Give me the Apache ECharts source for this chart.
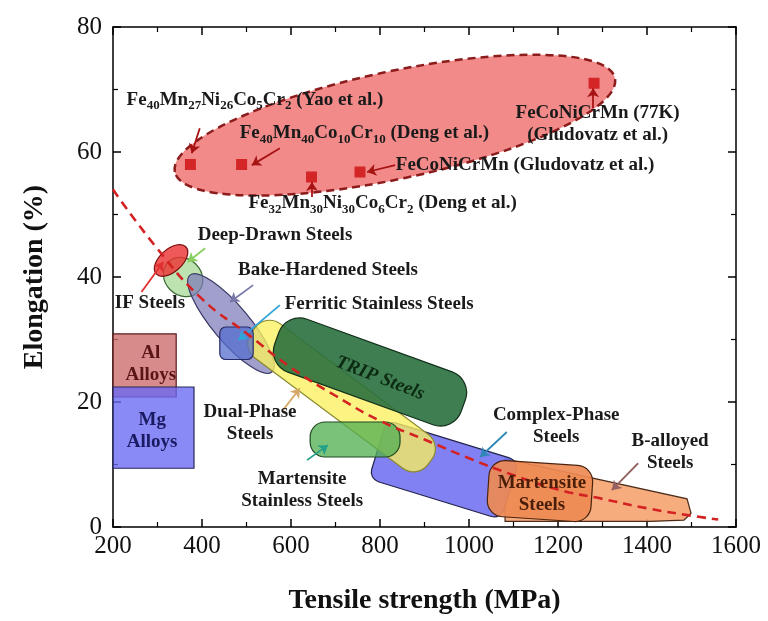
<!DOCTYPE html>
<html>
<head>
<meta charset="utf-8">
<script src="https://cdn.jsdelivr.net/npm/echarts/dist/echarts.min.js"></script>
<style>
  html, body { margin: 0; padding: 0; background: #ffffff; }
  #chart { width: 768px; height: 621px; }
</style>
</head>
<body>
<div id="chart"></div>
<script>
// ---- Data (tensile strength in MPa, elongation in %) ----

// Dashed banana trend line
const trendStrength = [200, 300, 400, 500, 600, 700, 800, 900, 1000, 1100, 1200, 1300, 1400, 1500, 1560];
const trendElong    = [54, 44.5, 36.5, 31, 25.5, 21, 17, 14, 11, 8.3, 6, 4.5, 3, 1.8, 1.2];

// High-entropy alloy data points
const heaStrength = [374, 489, 646, 755, 1281];
const heaElong    = [58, 58, 56, 56.8, 71];

// HEA envelope: major-axis tips and half minor axis (in % elongation)
const heaEnvelope = [339, 56.8, 1328, 71.8, 8.6];

// Steel families: end points of each band's axis and half-width (in % elongation)
const bandNames = ['Complex-Phase', 'Martensite', 'Deep-Drawn', 'Bake-Hardened', 'Dual-Phase',
                   'TRIP', 'Ferritic Stainless', 'Martensite Stainless', 'IF'];
const bandKinds = ['rect', 'rect', 'ellipse', 'ellipse', 'rect', 'rect', 'rect', 'rect', 'ellipse'];
const bandFrom  = [[795, 12.4], [1043, 6.3], [324, 42.4], [373, 40.3], [515, 31.5],
                   [568, 30.2], [440, 29.4], [643, 14.0], [297, 40.5]];
const bandTo    = [[1092, 5.9], [1276, 5.2], [391, 37.6], [557, 24.8], [912, 10.4],
                   [987, 19.4], [515, 29.4], [845, 14.0], [364, 44.8]];
const bandHalfWidth = [4.9, 4.5, 2.9, 2.9, 3.4, 4.5, 2.6, 2.8, 1.8];

// B-alloyed steels outline
const bAlloyedStrength = [1081, 1490, 1499, 1483, 1407, 1081];
const bAlloyedElong    = [10.9, 4.5, 2.2, 1.1, 0.9, 0.9];

// Light alloys: [strength min, strength max, elongation min, elongation max]
const alloyNames  = ['Al', 'Mg'];
const alloyRanges = [[200, 342, 20.8, 30.9], [200, 382, 9.4, 22.4]];

// Annotation text and anchors
const noteText = [
  'Fe{s|40}Mn{s|27}Ni{s|26}Co{s|5}Cr{s|2} (Yao et al.)',
  'Fe{s|40}Mn{s|40}Co{s|10}Cr{s|10} (Deng et al.)',
  'FeCoNiCrMn (Gludovatz et al.)',
  'Fe{s|32}Mn{s|30}Ni{s|30}Co{s|6}Cr{s|2} (Deng et al.)',
  'FeCoNiCrMn (77K)\n(Gludovatz et al.)',
  'Deep-Drawn Steels',
  'Bake-Hardened Steels',
  'IF Steels',
  'Ferritic Stainless Steels',
  'Dual-Phase\nSteels',
  'Martensite\nStainless Steels',
  'Complex-Phase\nSteels',
  'B-alloyed\nSteels',
  'Martensite\nSteels',
  'TRIP Steels',
  'Al\nAlloys',
  'Mg\nAlloys'
];
const noteStrength = [519, 765, 1126, 806, 1289, 564, 683, 283, 798, 508, 625, 1196, 1452, 1164, 800, 285, 288];
const noteElong    = [68.3, 63.0, 57.9, 51.8, 64.5, 46.7, 41.1, 35.8, 35.7, 16.6, 5.9, 16.2, 12.0, 5.3, 23.8, 26.1, 15.4];

// Pointer arrows: [from strength, from elongation, to strength, to elongation]
const arrowEnds = [
  [395, 63.8, 377, 59.8],
  [575, 60.6, 512, 57.9],
  [834, 57.9, 771, 56.8],
  [647, 52.8, 647, 55.2],
  [1279, 67.0, 1279, 70.2],
  [264, 37.6, 313, 42.4],
  [407, 44.6, 368, 42.4],
  [515, 38.7, 463, 36.0],
  [575, 35.5, 482, 29.9],
  [582, 18.7, 620, 22.2],
  [636, 10.7, 683, 13.1],
  [1085, 15.2, 1025, 11.2],
  [1380, 10.2, 1321, 5.9]
];

// ---- Styles ----
const SERIF = '"Liberation Serif", "Times New Roman", serif';
const bandStyle = {
  'Complex-Phase':        { fill: 'rgba(112,112,242,0.88)', stroke: '#22224a', r: 10 },
  'Martensite':           { fill: 'rgba(238,138,84,0.92)',  stroke: '#4a2410', r: 16 },
  'Deep-Drawn':           { fill: 'rgba(165,218,150,0.75)', stroke: '#3c6a34', r: 0 },
  'Bake-Hardened':        { fill: 'rgba(125,122,185,0.72)', stroke: '#3a3a66', r: 0 },
  'Dual-Phase':           { fill: 'rgba(250,240,95,0.78)',  stroke: '#8a8a30', r: 18 },
  'TRIP':                 { fill: 'rgba(42,112,62,0.9)',    stroke: '#12301a', r: 22 },
  'Ferritic Stainless':   { fill: 'rgba(85,110,205,0.75)',  stroke: '#262a66', r: 6 },
  'Martensite Stainless': { fill: 'rgba(85,175,85,0.78)',   stroke: '#1f4a22', r: 15 },
  'IF':                   { fill: 'rgba(235,52,52,0.82)',   stroke: '#7a1010', r: 0 }
};
const alloyStyle = {
  'Al': { fill: 'rgba(205,110,110,0.8)', stroke: '#5a1c1c' },
  'Mg': { fill: 'rgba(105,105,245,0.78)', stroke: '#26265a' }
};
const noteStyle = [
  {}, {}, {}, {}, {}, {}, {}, {}, {}, {}, {}, {}, {},
  { fill: '#4a1e08' },
  { fill: '#0c2a12', italic: true, rotate: -21 },
  { fill: '#5a1515' },
  { fill: '#1a1a62' }
];
const arrowColors = ['#a81414', '#a81414', '#a81414', '#a81414', '#a81414', '#e03030', '#88d060',
                     '#7878a8', '#2ea6d8', '#d8a868', '#22a08a', '#3088b8', '#946262'];
const arrowCurve = [0.25, 0.25, 0.1, 0, 0, 0, 0, 0, -0.3, 0, 0, 0, 0];

function orientedShape(api, x1, y1, x2, y2, halfW, kind, r) {
  const p1 = api.coord([x1, y1]);
  const p2 = api.coord([x2, y2]);
  const dx = p2[0] - p1[0], dy = p2[1] - p1[1];
  const len = Math.sqrt(dx * dx + dy * dy);
  const hw = api.size([0, halfW])[1];
  const el = kind === 'ellipse'
    ? { type: 'ellipse', shape: { cx: 0, cy: 0, rx: len / 2, ry: hw } }
    : { type: 'rect', shape: { x: -len / 2, y: -hw, width: len, height: 2 * hw, r: r } };
  el.x = (p1[0] + p2[0]) / 2;
  el.y = (p1[1] + p2[1]) / 2;
  el.rotation = -Math.atan2(dy, dx);
  return el;
}

const chart = echarts.init(document.getElementById('chart'), null, { renderer: 'canvas' });

const axisCommon = {
  type: 'value',
  axisLine: { show: true, onZero: false, lineStyle: { color: '#000', width: 1.5 } },
  axisTick: { show: true, inside: true, length: 8, lineStyle: { color: '#000', width: 1.5 } },
  minorTick: { show: true, splitNumber: 2, length: 5, lineStyle: { color: '#000', width: 1.2 } },
  splitLine: { show: false }
};
const plainNumber = function (v) { return String(v); };

const option = {
  animation: false,
  backgroundColor: '#ffffff',
  grid: { left: 113, right: 32, top: 27, bottom: 94, containLabel: false, outerBoundsMode: 'none' },
  xAxis: [
    Object.assign({}, axisCommon, {
      min: 200, max: 1600, interval: 200, position: 'bottom',
      axisLabel: { fontFamily: SERIF, fontSize: 25, color: '#111', margin: 7, formatter: plainNumber },
      name: 'Tensile strength (MPa)', nameLocation: 'middle', nameGap: 60,
      nameTextStyle: { fontFamily: SERIF, fontSize: 28, fontWeight: 'bold', color: '#111' }
    }),
    Object.assign({}, axisCommon, {
      min: 200, max: 1600, interval: 200, position: 'top', axisLabel: { show: false }
    })
  ],
  yAxis: [
    Object.assign({}, axisCommon, {
      min: 0, max: 80, interval: 20, position: 'left',
      axisLabel: { fontFamily: SERIF, fontSize: 25, color: '#111', margin: 11, formatter: plainNumber },
      name: 'Elongation (%)', nameLocation: 'middle', nameGap: 64,
      nameTextStyle: { fontFamily: SERIF, fontSize: 28, fontWeight: 'bold', color: '#111' }
    }),
    Object.assign({}, axisCommon, {
      min: 0, max: 80, interval: 20, position: 'right', axisLabel: { show: false }
    })
  ],
  series: [
    // HEA envelope
    {
      type: 'custom', name: 'HEA envelope', silent: true, z: 1,
      data: [heaEnvelope],
      renderItem: function (params, api) {
        const el = orientedShape(api, api.value(0), api.value(1), api.value(2), api.value(3), api.value(4), 'ellipse', 0);
        el.style = { fill: '#f28a8a', stroke: '#8c1c1c', lineWidth: 2.5, lineDash: [8, 5] };
        return el;
      }
    },
    // Light alloys
    {
      type: 'custom', name: 'Light alloys', silent: true, z: 2,
      data: alloyRanges,
      renderItem: function (params, api) {
        const a = api.coord([api.value(0), api.value(3)]);
        const b = api.coord([api.value(1), api.value(2)]);
        const st = alloyStyle[alloyNames[params.dataIndex]];
        return {
          type: 'rect',
          shape: { x: a[0], y: a[1], width: b[0] - a[0], height: b[1] - a[1] },
          style: { fill: st.fill, stroke: st.stroke, lineWidth: 1.2 }
        };
      }
    },
    // B-alloyed steels
    {
      type: 'custom', name: 'B-alloyed', silent: true, z: 2,
      data: bAlloyedStrength.map((s, i) => [s, bAlloyedElong[i]]),
      renderItem: function (params, api) {
        if (params.dataIndex !== 0) return null;
        const pts = bAlloyedStrength.map((s, i) => api.coord([s, bAlloyedElong[i]]));
        return {
          type: 'polygon',
          shape: { points: pts },
          style: { fill: 'rgba(246,165,115,0.92)', stroke: '#4a2a18', lineWidth: 1.2 }
        };
      }
    },
    // Steel families
    {
      type: 'custom', name: 'Steels', silent: true, z: 3,
      data: bandFrom.map((f, i) => [f[0], f[1], bandTo[i][0], bandTo[i][1], bandHalfWidth[i]]),
      renderItem: function (params, api) {
        const name = bandNames[params.dataIndex];
        const st = bandStyle[name];
        const el = orientedShape(api, api.value(0), api.value(1), api.value(2), api.value(3), api.value(4),
                                 bandKinds[params.dataIndex], st.r);
        el.style = { fill: st.fill, stroke: st.stroke, lineWidth: 1.2 };
        return el;
      }
    },
    // Trend line
    {
      type: 'line', name: 'Trend', silent: true, z: 5,
      data: trendStrength.map((s, i) => [s, trendElong[i]]),
      smooth: true, showSymbol: false, symbol: 'none',
      lineStyle: { color: '#d42222', width: 2.6, type: [9, 6] }
    },
    // HEA points and pointer arrows
    {
      type: 'scatter', name: 'HEA', silent: true, z: 6,
      data: heaStrength.map((s, i) => [s, heaElong[i]]),
      symbol: 'rect', symbolSize: 11,
      itemStyle: { color: '#cc0c0c' },
      markLine: {
        silent: true, animation: false,
        symbol: ['none', 'arrow'], symbolSize: 9,
        label: { show: false },
        data: arrowEnds.map((a, i) => [
          { coord: [a[0], a[1]], lineStyle: { color: arrowColors[i], width: 1.8, type: 'solid', curveness: arrowCurve[i] } },
          { coord: [a[2], a[3]] }
        ])
      }
    },
    // Annotation text
    {
      type: 'custom', name: 'Notes', silent: true, z: 8,
      data: noteStrength.map((s, i) => [s, noteElong[i]]),
      renderItem: function (params, api) {
        const i = params.dataIndex;
        const p = api.coord([api.value(0), api.value(1)]);
        const ns = noteStyle[i];
        return {
          type: 'text',
          x: p[0], y: p[1],
          rotation: ns.rotate ? ns.rotate * Math.PI / 180 : 0,
          style: {
            text: noteText[i],
            fontFamily: SERIF, fontSize: 19, fontWeight: 'bold',
            fontStyle: ns.italic ? 'italic' : 'normal',
            fill: ns.fill || '#1a1a1a',
            align: 'center', verticalAlign: 'middle',
            lineHeight: 22,
            rich: {
              s: { fontFamily: SERIF, fontSize: 13, fontWeight: 'bold', fill: ns.fill || '#1a1a1a', padding: [12, 0, 0, 0] }
            }
          }
        };
      }
    }
  ]
};

chart.setOption(option);
</script>
</body>
</html>
